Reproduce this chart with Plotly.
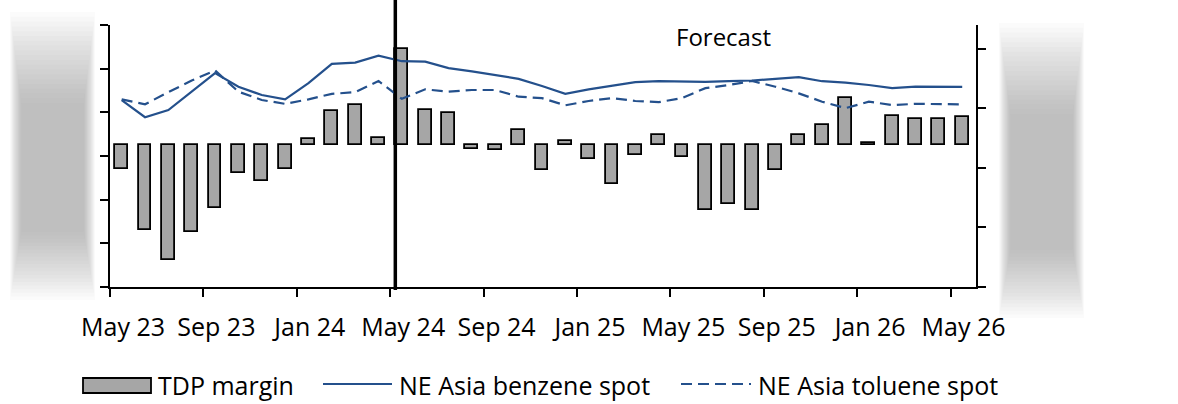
import plotly.graph_objects as go

# Monthly series, May 2023 - May 2026 (month index 0 = May 23)
months = list(range(37))
tdp_margin = [-54, -194, -264, -199, -144, -65, -83, -54, 15, 77, 91, 17,
              219, 80, 74, -8, -12, 34, -58, 9, -33, -90, -23, 23,
              -27, -148, -136, -148, -58, 23, 47, 107, 5, 66, 59, 59, 64]
benzene_spot = [785, 713, 743, 820, 898, 841, 806, 788, 856, 937, 942, 971,
                948, 946, 919, 905, 890, 874, 844, 811, 830, 845, 860, 864,
                862, 861, 864, 867, 874, 881, 864, 858, 848, 835, 841, 841, 840]
toluene_spot = [788, 767, 818, 867, 909, 820, 785, 769, 788, 811, 818, 865,
                790, 830, 820, 827, 827, 799, 793, 763, 781, 793, 781, 776,
                793, 835, 848, 865, 841, 813, 778, 751, 778, 764, 769, 769, 767]
tick_months = [0, 4, 8, 12, 16, 20, 24, 28, 32, 36]
tick_labels = ["May 23", "Sep 23", "Jan 24", "May 24", "Sep 24", "Jan 25",
               "May 25", "Sep 25", "Jan 26", "May 26"]
forecast_start = 12.22

FONT = "Open Sans"
FS = 25
BLUE = "#24508c"
DASH = "11px,6px"
W, H = 1178, 404
L, R, T, B = 110, 202, 25, 117
PW, PH = W - L - R, H - T - B


def px_x(p):
    return (p - L) / PW


def px_y(p):
    return (H - B - p) / PH


x_mid = [m + 0.5 for m in months]

fig = go.Figure()
fig.add_trace(go.Bar(
    x=x_mid, y=tdp_margin, width=0.55, name="TDP margin",
    marker=dict(color="#a6a6a6", line=dict(color="black", width=1.8)),
    yaxis="y", showlegend=False))
fig.add_trace(go.Scatter(
    x=x_mid, y=benzene_spot, mode="lines", name="NE Asia benzene spot",
    line=dict(color=BLUE, width=2.2), yaxis="y2", showlegend=False))
fig.add_trace(go.Scatter(
    x=x_mid, y=toluene_spot, mode="lines", name="NE Asia toluene spot",
    line=dict(color=BLUE, width=2.2, dash=DASH), yaxis="y2",
    showlegend=False))

axis_common = dict(showline=True, linecolor="black", linewidth=2,
                   ticks="outside", ticklen=8, tickwidth=2, tickcolor="black",
                   showgrid=False, zeroline=False)

fig.update_layout(
    width=W, height=H,
    margin=dict(l=L, r=R, t=T, b=B, pad=0),
    paper_bgcolor="white", plot_bgcolor="white",
    font=dict(family=FONT, size=FS, color="black"),
    bargap=0,
    xaxis=dict(range=[0, 37.09], tickvals=tick_months, ticktext=tick_labels,
               ticklabelshift=13, ticklabelstandoff=9,
               tickfont=dict(size=FS), **axis_common),
    yaxis=dict(range=[-325, 275],
               tickvals=[-325, -225, -125, -25, 75, 175, 275],
               showticklabels=False, **axis_common),
    yaxis2=dict(range=[0, 1100], tickvals=[0, 250, 500, 750, 1000],
                showticklabels=False, overlaying="y", side="right",
                **axis_common),
)

shapes = []

# Forecast divider
shapes.append(dict(type="line", xref="x", yref="paper",
                   x0=forecast_start, x1=forecast_start,
                   y0=px_y(290), y1=px_y(0),
                   line=dict(color="black", width=3.5), layer="above"))


# Soft grey panels beside the value axes
def soft_panel(x0, x1, y0, y1, n=20):
    out = []
    for i in range(n):
        dx = i * 0.6
        out.append(dict(type="rect", xref="paper", yref="paper",
                        x0=px_x(x0 + dx), x1=px_x(x1 - dx),
                        y0=px_y(y1 - i * 3.6), y1=px_y(y0 + i * 4.8),
                        line=dict(width=0),
                        fillcolor="rgba(132,140,154,0.036)", layer="above"))
    return out


shapes += soft_panel(10, 95, 12, 300)
shapes += soft_panel(999, 1084, 23, 318)

# Legend keys
shapes.append(dict(type="rect", xref="paper", yref="paper",
                   x0=px_x(83), x1=px_x(151), y0=px_y(393), y1=px_y(378),
                   fillcolor="#a6a6a6", line=dict(color="black", width=1.8)))
shapes.append(dict(type="line", xref="paper", yref="paper",
                   x0=px_x(323), x1=px_x(392), y0=px_y(384), y1=px_y(384),
                   line=dict(color=BLUE, width=2.2)))
shapes.append(dict(type="line", xref="paper", yref="paper",
                   x0=px_x(681), x1=px_x(751), y0=px_y(384), y1=px_y(384),
                   line=dict(color=BLUE, width=2.2, dash=DASH)))
fig.update_layout(shapes=shapes)

annotations = [
    dict(text="TDP margin", x=px_x(156), y=px_y(385)),
    dict(text="NE Asia benzene spot", x=px_x(397), y=px_y(385)),
    dict(text="NE Asia toluene spot", x=px_x(756), y=px_y(385)),
]
for a in annotations:
    a.update(xref="paper", yref="paper", xanchor="left", yanchor="middle",
             showarrow=False, font=dict(size=FS, family=FONT))
annotations.append(dict(text="Forecast", xref="paper", yref="paper",
                        x=px_x(723), y=px_y(36), xanchor="center",
                        yanchor="middle", showarrow=False,
                        font=dict(size=24, family=FONT)))
fig.update_layout(annotations=annotations)

fig.write_html("out.html")
